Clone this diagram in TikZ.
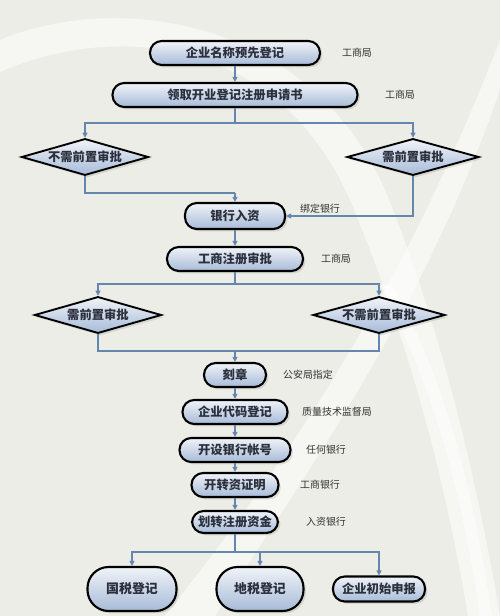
\documentclass[tikz,border=0pt]{standalone}
\usepackage{fontspec}
\setmainfont{Noto Sans CJK SC}
\usetikzlibrary{positioning,shapes.geometric,arrows.meta,shadows}
\definecolor{bgpaper}{HTML}{EDEDE7}
\definecolor{linkblue}{HTML}{6586AD}
\definecolor{boxtop}{HTML}{F0F3F8}
\definecolor{boxbot}{HTML}{A7BBD8}
\definecolor{inktext}{HTML}{2B303C}
\definecolor{notetext}{HTML}{333333}
\tikzset{
  % --- process steps (pill shaped) ---
  pill/.style={draw=black, line width=1.8pt, rounded corners=10pt,
               top color=boxtop, bottom color=boxbot, text=inktext,
               font=\bfseries\fontsize{10.5}{12}\selectfont,
               minimum height=7.2mm, inner sep=0pt,
               drop shadow={opacity=0.22, shadow xshift=0.7mm, shadow yshift=-0.7mm}},
  pillbig/.style={pill, rounded corners=18pt, minimum height=13.2mm,
                  font=\bfseries\fontsize{11}{13}\selectfont},
  % --- approval decisions ---
  decide/.style={diamond, draw=black, line width=1.6pt, aspect=3.4,
                 inner sep=0pt, minimum height=11mm,
                 top color=boxtop, bottom color=boxbot, text=inktext,
                 font=\bfseries\fontsize{10.5}{12}\selectfont,
                 drop shadow={opacity=0.22, shadow xshift=0.7mm, shadow yshift=-0.7mm}},
  % --- connectors and side notes ---
  flow/.style={-{Triangle[length=1.5mm,width=1.5mm]}, draw=linkblue, line width=0.9pt},
  link/.style={draw=linkblue, line width=0.9pt},
  note/.style={font=\fontsize{8.5}{10}\selectfont, text=notetext},
  swoosh/.style={fill=white, opacity=0.5, draw=none},
}
\begin{document}
\begin{tikzpicture}[x=0.03cm, y=-0.03cm]
  % paper and white swooshes behind the chart
  \fill[bgpaper] (0,0) rectangle (500,616);
  \useasboundingbox (0,0) rectangle (500,616);
  \fill[swoosh] (0,72) .. controls (120,20) and (280,40) .. (350,200)
        .. controls (400,320) and (440,450) .. (468,616) -- (500,616)
        .. controls (470,440) and (430,300) .. (385,190)
        .. controls (310,20) and (120,-10) .. (0,40) -- cycle;
  \fill[swoosh] (165,616) .. controls (280,470) and (400,300) .. (500,40)
        -- (500,90) .. controls (420,320) and (300,480) .. (215,616) -- cycle;
  \fill[swoosh] (380,285) .. controls (430,380) and (460,480) .. (480,616)
        -- (492,616) .. controls (470,470) and (440,370) .. (392,285) -- cycle;

  % main column
  \node[pill, minimum width=5.1cm]  (reg)    at (235,53)  {企业名称预先登记};
  \node[pill, minimum width=7.35cm] (form)   at (235,95)  {领取开业登记注册申请书};
  \node[decide, minimum width=3.81cm] (noapp1) at (85,157)  {不需前置审批};
  \node[decide, minimum width=3.96cm] (app1)   at (413,157) {需前置审批};
  \node[pill, minimum width=3.0cm, minimum height=7.8mm] (bank) at (235,216) {银行入资};
  \node[pill, minimum width=4.08cm] (icapp)  at (235,259) {工商注册审批};
  \node[decide, minimum width=3.81cm] (app2)   at (98,315)  {需前置审批};
  \node[decide, minimum width=3.96cm] (noapp2) at (379,315) {不需前置审批};
  \node[pill, minimum width=1.86cm] (seal)   at (235,375) {刻章};
  \node[pill, minimum width=3.15cm] (code)   at (235,412) {企业代码登记};
  \node[pill, minimum width=3.33cm] (acct)   at (235,450) {开设银行帐号};
  \node[pill, minimum width=2.61cm] (proof)  at (235,485) {开转资证明};
  \node[pill, minimum width=2.58cm, minimum height=6.6mm] (fund) at (235,522) {划转注册资金};
  \node[pillbig, minimum width=2.67cm] (ntax) at (132,589) {国税登记};
  \node[pillbig, minimum width=2.61cm] (ltax) at (260,589) {地税登记};
  \node[pill, minimum width=2.76cm, minimum height=7.5mm] (init) at (379,589) {企业初始申报};

  % who handles each step
  \node[note] (n1) at (357,53)  {工商局};
  \node[note] (n2) at (400,95)  {工商局};
  \node[note] (n3) at (320,209) {绑定银行};
  \node[note] (n4) at (336,259) {工商局};
  \node[note] (n5) at (308,375) {公安局指定};
  \node[note] (n6) at (337,412) {质量技术监督局};
  \node[note] (n7) at (326,450) {任何银行};
  \node[note] (n8) at (320,485) {工商银行};
  \node[note] (n9) at (326,522) {入资银行};

  % branch / merge points
  \coordinate (split1) at (235,123);
  \coordinate (join1)  at (235,193);
  \coordinate (split2) at (235,284);
  \coordinate (join2)  at (235,351);
  \coordinate (split3) at (235,552);

  \draw[flow] (reg) -- (form);
  \draw[link] (form) -- (split1);
  \draw[flow] (split1) -| (noapp1);
  \draw[flow] (split1) -| (app1);
  \draw[link] (noapp1) |- (join1);
  \draw[flow] (join1) -- (bank);
  \draw[flow] (app1) |- (bank);
  \draw[flow] (bank) -- (icapp);
  \draw[link] (icapp) -- (split2);
  \draw[flow] (split2) -| (app2);
  \draw[flow] (split2) -| (noapp2);
  \draw[link] (app2) |- (join2);
  \draw[link] (noapp2) |- (join2);
  \draw[flow] (join2) -- (seal);
  \draw[flow] (seal) -- (code);
  \draw[flow] (code) -- (acct);
  \draw[flow] (acct) -- (proof);
  \draw[flow] (proof) -- (fund);
  \draw[link] (fund) -- (split3);
  \draw[flow] (split3) -| (ntax);
  \draw[flow] (split3) -| (ltax);
  \draw[flow] (split3) -| (init);
\end{tikzpicture}
\end{document}
